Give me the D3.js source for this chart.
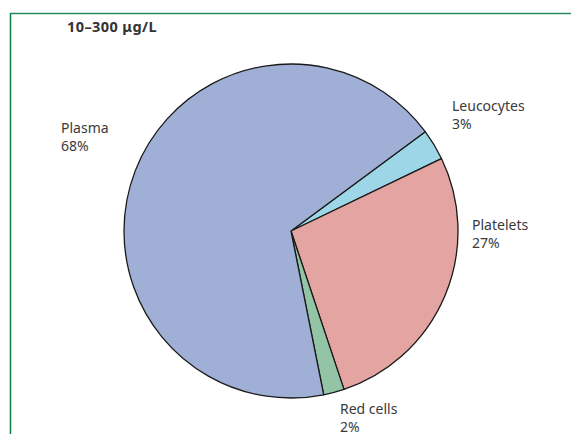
<!DOCTYPE html>
<html>
<head>
<meta charset="utf-8">
<script src="https://d3js.org/d3.v7.min.js"></script>
<style>
	body { margin: 0; background: #fff; }
	svg { display: block; }
	.label { font-family: "Noto Sans", sans-serif; font-size: 14px; fill: #3a3a3a; }
	.title { font-family: "Noto Sans", sans-serif; font-size: 14.5px; font-weight: bold; fill: #333; letter-spacing: 0.4px; }
</style>
</head>
<body>
<script>
// Chart data (clockwise from the leucocytes slice)
const categories = ['Leucocytes', 'Platelets', 'Red cells', 'Plasma'];
const shares = [3, 27, 2, 68];
const colours = ['#9dd6e6', '#e3a4a2', '#93c4a5', '#a0afd6'];
const titleText = '10\u2013300 \u03bcg/L';

const width = 571, height = 434;
const cx = 291, cy = 231, radius = 167;

// label anchor (x, baseline of first line) per category
const labelPos = {
	'Leucocytes': [452, 111],
	'Platelets': [472, 230],
	'Red cells': [340, 414],
	'Plasma': [61, 133]
};

const svg = d3.select('body').append('svg')
	.attr('width', width)
	.attr('height', height);

// Frame lines
svg.append('line')
	.attr('x1', 10.5).attr('x2', width)
	.attr('y1', 13.5).attr('y2', 13.5)
	.attr('stroke', '#2b8a5c').attr('stroke-width', 1.5);
svg.append('line')
	.attr('x1', 10.5).attr('x2', 10.5)
	.attr('y1', 13).attr('y2', height)
	.attr('stroke', '#0c7d45').attr('stroke-width', 1.5);

svg.append('text')
	.attr('class', 'title')
	.attr('x', 67)
	.attr('y', 32)
	.text(titleText);

const start = 53.5 * Math.PI / 180;
const pie = d3.pie()
	.sort(null)
	.value(d => d.value)
	.startAngle(start)
	.endAngle(start + 2 * Math.PI);

const data = categories.map((c, i) => ({ name: c, value: shares[i], colour: colours[i] }));
const arc = d3.arc().innerRadius(0).outerRadius(radius);

const g = svg.append('g').attr('transform', 'translate(' + cx + ',' + cy + ')');
g.selectAll('path')
	.data(pie(data))
	.join('path')
	.attr('d', arc)
	.attr('fill', d => d.data.colour)
	.attr('stroke', '#1a1a1a')
	.attr('stroke-width', 1.3)
	.attr('stroke-linejoin', 'round');

const labels = svg.selectAll('text.label')
	.data(data)
	.join('text')
	.attr('class', 'label')
	.attr('x', d => labelPos[d.name][0])
	.attr('y', d => labelPos[d.name][1]);
labels.append('tspan').text(d => d.name);
labels.append('tspan')
	.attr('x', d => labelPos[d.name][0])
	.attr('dy', 17.5)
	.text(d => d.value + '%');
</script>
</body>
</html>
